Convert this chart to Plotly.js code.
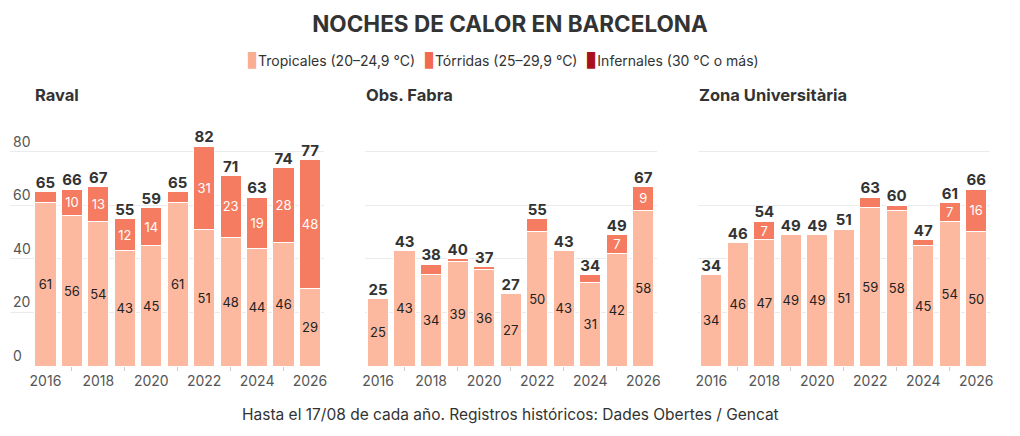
<!DOCTYPE html>
<html>
<head>
<meta charset="utf-8">
<script src="https://cdn.plot.ly/plotly-3.0.1.min.js"></script>
<style>
  html, body { margin: 0; padding: 0; background: #fff; }
  #chart { width: 1020px; height: 436px; }
</style>
</head>
<body>
<div id="chart"></div>
<script>
// heat nights per year
var years = [2016, 2017, 2018, 2019, 2020, 2021, 2022, 2023, 2024, 2025, 2026];

var ravalTrop = [61, 56, 54, 43, 45, 61, 51, 48, 44, 46, 29];
var ravalTorr = [4, 10, 13, 12, 14, 4, 31, 23, 19, 28, 48];
var ravalInf  = [0, 0, 0, 0, 0, 0, 0, 0, 0, 0, 0];

var fabraTrop = [25, 43, 34, 39, 36, 27, 50, 43, 31, 42, 58];
var fabraTorr = [0, 0, 4, 1, 1, 0, 5, 0, 3, 7, 9];
var fabraInf  = [0, 0, 0, 0, 0, 0, 0, 0, 0, 0, 0];

var zonaTrop = [34, 46, 47, 49, 49, 51, 59, 58, 45, 54, 50];
var zonaTorr = [0, 0, 7, 0, 0, 0, 4, 2, 2, 7, 16];
var zonaInf  = [0, 0, 0, 0, 0, 0, 0, 0, 0, 0, 0];

var stations = ['Raval', 'Obs. Fabra', 'Zona Universitària'];
var seriesNames = ['Tropicales (20–24,9 °C)', 'Tórridas (25–29,9 °C)', 'Infernales (30 °C o más)'];

var FONT = 'Inter, Roboto, sans-serif';
var colors = ['#fcb9a0', '#f57c60', '#a8111b'];
var legendColors = ['#f9ad92', '#f26a50', '#a8111b'];

function segLabels(vals, min) {
    return vals.map(function (v) { return v >= min ? String(v) : ''; });
}

function sums(a, b, c) {
    return a.map(function (v, i) { return v + b[i] + c[i]; });
}

function panel(trop, torr, inf, n) {
    var xa = n === 1 ? 'x' : 'x' + n;
    var ya = n === 1 ? 'y' : 'y' + n;
    var line = { color: '#fff', width: 1 };
    var totals = sums(trop, torr, inf);
    return [
        {
            type: 'bar', x: years, y: trop, xaxis: xa, yaxis: ya,
            name: seriesNames[0], showlegend: false,
            marker: { color: colors[0], line: line },
            text: segLabels(trop, 1), textposition: 'inside', insidetextanchor: 'middle',
            textangle: 0, constraintext: 'none',
            textfont: { family: FONT, size: 13, color: '#222' }
        },
        {
            type: 'bar', x: years, y: torr, xaxis: xa, yaxis: ya,
            name: seriesNames[1], showlegend: false,
            marker: { color: colors[1], line: line },
            text: segLabels(torr, 7), textposition: 'inside', insidetextanchor: 'middle',
            textangle: 0, constraintext: 'none',
            textfont: { family: FONT, size: 13, color: '#fff' }
        },
        {
            type: 'bar', x: years, y: inf, xaxis: xa, yaxis: ya,
            name: seriesNames[2], showlegend: false,
            marker: { color: colors[2], line: line },
            text: segLabels(inf, 7), textposition: 'inside',
            textfont: { family: FONT, size: 13, color: '#fff' }
        },
        {
            type: 'scatter', mode: 'text', x: years, y: totals, xaxis: xa, yaxis: ya,
            text: totals.map(String), textposition: 'top center', showlegend: false,
            textfont: { family: FONT, size: 15, color: '#333', weight: 700 },
            cliponaxis: false
        }
    ];
}

var data = []
    .concat(panel(ravalTrop, ravalTorr, ravalInf, 1))
    .concat(panel(fabraTrop, fabraTorr, fabraInf, 2))
    .concat(panel(zonaTrop, zonaTorr, zonaInf, 3));

var W = 1020, H = 436;
function px(x) { return x / W; }
function py(y) { return 1 - y / H; }

var yDom = [py(366), py(130)];

function xAxis(dom, range) {
    return {
        domain: dom, range: range, type: 'linear',
        tick0: 2016, dtick: 2, ticks: '', showgrid: false, zeroline: false,
        showline: false, ticklabelstandoff: 5,
        tickfont: { family: FONT, size: 14, color: '#555' },
        minor: { dtick: 1, tick0: 2016, ticks: 'outside', ticklen: 4, tickcolor: '#ccc', showgrid: false },
        fixedrange: true
    };
}

function yAxis(anchor, labels) {
    return {
        domain: yDom, range: [0, 88], anchor: anchor,
        tickvals: [0, 20, 40, 60, 80],
        showticklabels: labels,
        ticklabelposition: 'inside top',
        tickfont: { family: FONT, size: 14, color: '#555' },
        showgrid: true, gridcolor: '#ebebeb', gridwidth: 1,
        zeroline: false, showline: false, ticks: '',
        fixedrange: true
    };
}

var annotations = [
    { text: '<b>' + stations[0] + '</b>', x: px(33), y: py(95) },
    { text: '<b>' + stations[1] + '</b>', x: px(364), y: py(95) },
    { text: '<b>' + stations[2] + '</b>', x: px(697), y: py(95) }
].map(function (a) {
    a.xref = 'paper'; a.yref = 'paper'; a.xanchor = 'left'; a.yanchor = 'middle';
    a.showarrow = false;
    a.font = { family: FONT, size: 16.5, color: '#333' };
    return a;
});

// legend row: coloured marks plus series names
var legendText = seriesNames.map(function (name, i) {
    return '<span style="color:' + legendColors[i] + ';font-size:22px">▮</span>' + name;
}).join('&nbsp;&nbsp;');

annotations.push({
    text: legendText,
    xref: 'paper', yref: 'paper', x: px(502), y: py(58), xanchor: 'center', yanchor: 'middle',
    showarrow: false, font: { family: FONT, size: 14, color: '#333' }
});

annotations.push({
    text: 'Hasta el 17/08 de cada año. Registros históricos: Dades Obertes / Gencat',
    xref: 'paper', yref: 'paper', x: 0.5, y: py(414), xanchor: 'center', yanchor: 'middle',
    showarrow: false, font: { family: FONT, size: 15.5, color: '#333' }
});

var layout = {
    width: W, height: H,
    margin: { l: 0, r: 0, t: 0, b: 0 },
    paper_bgcolor: '#fff', plot_bgcolor: '#fff',
    barmode: 'stack', bargap: 0.2,
    title: {
        text: '<b>NOCHES DE CALOR EN BARCELONA</b>',
        x: 0.5, xanchor: 'center', xref: 'paper',
        y: py(24), yanchor: 'middle', yref: 'paper',
        font: { family: FONT, size: 22.5, color: '#333' }
    },
    xaxis: xAxis([px(10), px(323.5)], [2016 - 35.5 / 26.5, 2026.51]),
    xaxis2: xAxis([px(364.8), px(656.6)], [2015.5, 2026.5]),
    xaxis3: xAxis([px(698), px(989.5)], [2015.5, 2026.5]),
    yaxis: yAxis('x', true),
    yaxis2: yAxis('x2', false),
    yaxis3: yAxis('x3', false),
    annotations: annotations,
    showlegend: false
};

Plotly.newPlot('chart', data, layout, { staticPlot: true, displayModeBar: false });
</script>
</body>
</html>
